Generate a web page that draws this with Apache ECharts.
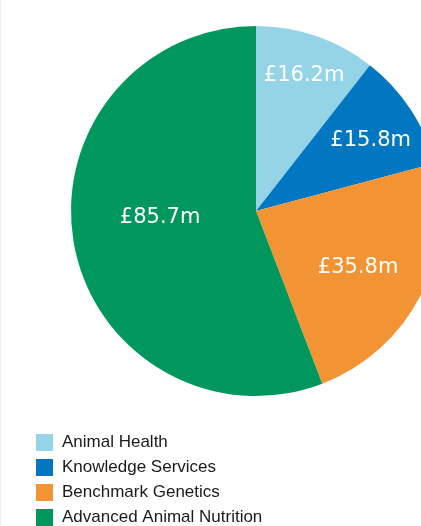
<!DOCTYPE html>
<html>
<head>
<meta charset="utf-8">
<script src="https://cdn.jsdelivr.net/npm/echarts@6/dist/echarts.min.js"></script>
<style>
  html, body { margin: 0; padding: 0; background: #fff; }
  #chart { width: 421px; height: 526px; }
</style>
</head>
<body>
<div id="chart"></div>
<script>
// Divisions and their revenue (£m)
const divisions = ['Animal Health', 'Knowledge Services', 'Benchmark Genetics', 'Advanced Animal Nutrition'];
const revenue = [16.2, 15.8, 35.8, 85.7];
const colours = ['#95d3e6', '#0077c0', '#f39434', '#00975f'];
// Nudges for the in-slice value labels
const labelOffsets = [[17, -45], [35, -18], [17, 13], [-2, -11]];

const chart = echarts.init(document.getElementById('chart'), null, { renderer: 'canvas' });

chart.setOption({
  animation: false,
  graphic: [{
    type: 'line',
    shape: { x1: 0.5, y1: 0, x2: 0.5, y2: 526 },
    style: { stroke: '#f0f0f0', lineWidth: 1 },
    silent: true
  }],
  legend: {
    orient: 'vertical',
    left: 31,
    top: 429,
    height: 100,
    itemWidth: 17,
    itemHeight: 17,
    itemGap: 8,
    icon: 'rect',
    textStyle: { fontFamily: 'Liberation Sans', fontSize: 17, color: '#1a1a1a', padding: [0, 0, 0, 4] },
    data: divisions
  },
  series: [{
    type: 'pie',
    center: [256, 211],
    radius: [0, 185],
    startAngle: 90,
    clockwise: true,
    silent: true,
    label: {
      show: true,
      position: 'inside',
      color: '#fff',
      fontFamily: 'DejaVu Sans',
      fontSize: 21,
      formatter: p => '£' + p.value.toFixed(1) + 'm'
    },
    labelLine: { show: false },
    itemStyle: { borderWidth: 0 },
    data: divisions.map((name, i) => ({
      name,
      value: revenue[i],
      itemStyle: { color: colours[i] },
      label: { offset: labelOffsets[i] }
    }))
  }]
});
</script>
</body>
</html>
